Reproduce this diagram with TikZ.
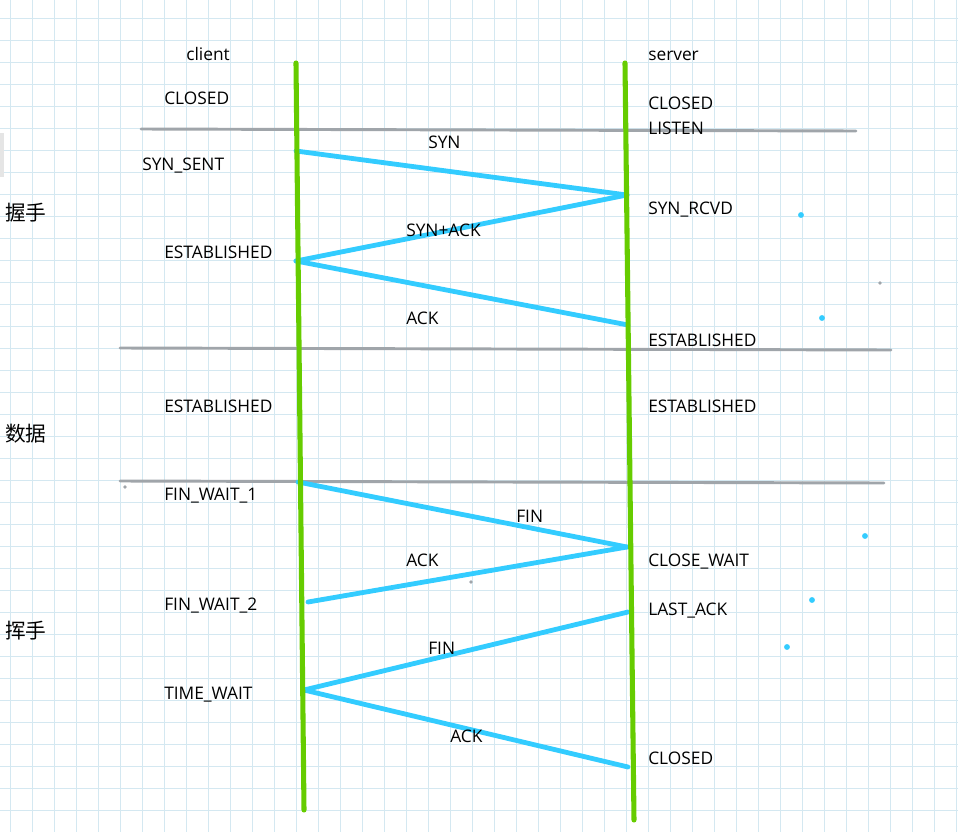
\documentclass[tikz,border=0pt]{standalone}
\usepackage{fontspec}
\setmainfont{Open Sans}
\newfontfamily\cjk{Noto Sans CJK SC}
\begin{document}
\begin{tikzpicture}[x=0.75pt,y=-0.75pt,
  gridline/.style={draw=gridc,line width=0.75pt},
  sep/.style={draw=sepc,line width=2.2pt,line cap=round},
  life/.style={draw=lifec,line width=3.8pt,line cap=round},
  msg/.style={draw=msgc,line width=3.6pt,line cap=round},
  lbl/.style={anchor=base west,inner sep=0pt,font=\fontsize{13}{15}\selectfont,text=black},
  zh/.style={anchor=west,inner sep=0pt,font=\cjk\fontsize{15.5}{17}\selectfont,text=black},
  dotb/.style={fill=msgc},
  dotg/.style={fill=sepc}]
\definecolor{gridc}{RGB}{212,232,241}
\definecolor{sepc}{RGB}{160,165,170}
\definecolor{lifec}{RGB}{102,204,0}
\definecolor{msgc}{RGB}{51,204,255}
\useasboundingbox (0,0) rectangle (958,832);
\fill[white] (0,0) rectangle (958,832);
\foreach \i in {0,...,43} \draw[gridline] ({10+22*\i},0) -- ({10+22*\i},832);
\foreach \j in {0,...,37} \draw[gridline] (0,{18.5+22*\j}) -- (958,{18.5+22*\j});
\fill[black!10] (0,133) rectangle (4,177);

% separators
\coordinate (g1a) at (141,129); \coordinate (g1b) at (856,131);
\coordinate (g2a) at (120,348); \coordinate (g2b) at (891,350);
\coordinate (g3a) at (120,481); \coordinate (g3b) at (884,483);
\draw[sep] (g1a) -- (g1b);
\draw[sep] (g2a) -- (g2b);
\draw[sep] (g3a) -- (g3b);

% message end points
\coordinate (p1) at (296,151);
\coordinate (p2) at (627,195);
\coordinate (p3) at (296,261);
\coordinate (p4) at (628,325);
\coordinate (p5) at (298,482);
\coordinate (p6) at (627,547);
\coordinate (p7) at (308,602);
\coordinate (p8) at (628,612);
\coordinate (p9) at (304,690);
\coordinate (p10) at (628,767);
\draw[msg] (p1) -- (p2);
\draw[msg] (p2) -- (p3);
\draw[msg] (p3) -- (p4);
\draw[msg] (p5) -- (p6);
\draw[msg] (p6) -- (p7);
\draw[msg] (p8) -- (p9);
\draw[msg] (p9) -- (p10);

% lifelines
\coordinate (c0) at (296,63); \coordinate (c1) at (304,810);
\coordinate (s0) at (625,63); \coordinate (s1) at (634,820);
\draw[life] (c0) -- (c1);
\draw[life] (s0) -- (s1);

% dots
\fill[dotb] (801,215) circle (2.2pt);
\fill[dotb] (822,318) circle (2.2pt);
\fill[dotb] (865,536) circle (2.2pt);
\fill[dotb] (812,600) circle (2.2pt);
\fill[dotb] (787,647) circle (2.2pt);
\fill[dotg] (880,283) circle (1.4pt);
\fill[dotg] (125,487) circle (1.4pt);
\fill[dotg] (471,582) circle (1.4pt);

% headers
\node[lbl] (client) at (186,60) {client};
\node[lbl] (server) at (648,60) {server};
% client states
\node[lbl] (cclosed) at (164,104) {CLOSED};
\node[lbl] (csent) at (142,170) {SYN\_SENT};
\node[lbl] (cest1) at (164,258) {ESTABLISHED};
\node[lbl] (cest2) at (164,412) {ESTABLISHED};
\node[lbl] (cfw1) at (164,500) {FIN\_WAIT\_1};
\node[lbl] (cfw2) at (164,610) {FIN\_WAIT\_2};
\node[lbl] (ctw) at (164,699) {TIME\_WAIT};
% server states
\node[lbl] (sclosed) at (648,109) {CLOSED};
\node[lbl] (slisten) at (648,134) {LISTEN};
\node[lbl] (srcvd) at (648,214) {SYN\_RCVD};
\node[lbl] (sest1) at (648,346) {ESTABLISHED};
\node[lbl] (sest2) at (648,412) {ESTABLISHED};
\node[lbl] (scw) at (648,566) {CLOSE\_WAIT};
\node[lbl] (slack) at (648,615) {LAST\_ACK};
\node[lbl] (sclosed2) at (648,764) {CLOSED};
% message labels
\node[lbl] (l1) at (428,148) {SYN};
\node[lbl] (l2) at (406,236) {SYN+ACK};
\node[lbl] (l3) at (406,324) {ACK};
\node[lbl] (l4) at (516,522) {FIN};
\node[lbl] (l5) at (406,566) {ACK};
\node[lbl] (l6) at (428,654) {FIN};
\node[lbl] (l7) at (450,742) {ACK};
% phases
\node[zh] (ph1) at (5,213) {握手};
\node[zh] (ph2) at (5,434) {数据};
\node[zh] (ph3) at (5,631) {挥手};
\end{tikzpicture}
\end{document}
